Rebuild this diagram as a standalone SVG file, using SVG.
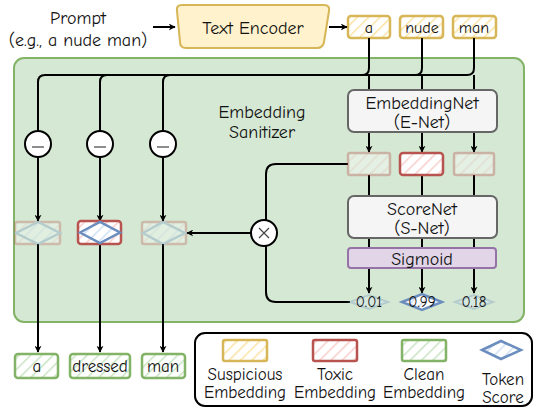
<svg xmlns="http://www.w3.org/2000/svg" width="538" height="412" viewBox="0 0 538 412">
<defs>
<pattern id="hy" width="8" height="8" patternUnits="userSpaceOnUse" patternTransform="rotate(45)"><rect width="8" height="8" fill="#ffffff"/><line x1="0" y1="0" x2="0" y2="8" stroke="#fbe3a6" stroke-width="3"/></pattern>
<pattern id="hr" width="8" height="8" patternUnits="userSpaceOnUse" patternTransform="rotate(45)"><rect width="8" height="8" fill="#ffffff"/><line x1="0" y1="0" x2="0" y2="8" stroke="#f8cecc" stroke-width="3"/></pattern>
<pattern id="hg" width="8" height="8" patternUnits="userSpaceOnUse" patternTransform="rotate(45)"><rect width="8" height="8" fill="#ffffff"/><line x1="0" y1="0" x2="0" y2="8" stroke="#c9e3c3" stroke-width="3"/></pattern>
<pattern id="hb" width="8" height="8" patternUnits="userSpaceOnUse" patternTransform="rotate(45)"><rect width="8" height="8" fill="#ffffff"/><line x1="0" y1="0" x2="0" y2="8" stroke="#cfe0f5" stroke-width="3"/></pattern>
<marker id="ah" viewBox="0 0 10 10" refX="9" refY="5" markerWidth="7" markerHeight="7" orient="auto" markerUnits="userSpaceOnUse"><path d="M0,0 L10,5 L0,10 L3,5 Z" fill="#000"/></marker>
</defs>
<style>
text{font-family:"Comic Sans MS","Comic Neue","DejaVu Sans","Liberation Sans",sans-serif;fill:#111;text-anchor:middle}
.t{font-size:18px}
.s{font-size:16px}
.b{font-size:17px}
.l{font-size:17px}
.n{font-size:15px}
.c{fill:none;stroke:#000;stroke-width:2}
.ca{fill:none;stroke:#000;stroke-width:2;marker-end:url(#ah)}
.y{fill:url(#hy);stroke:#d6b656;stroke-width:2.5}
.r{fill:url(#hr);stroke:#b85450;stroke-width:2.5}
.g{fill:url(#hg);stroke:#82b366;stroke-width:2.5}
.d{fill:url(#hb);stroke:#6c8ebf;stroke-width:2.5}
.box{fill:#f5f5f5;stroke:#666;stroke-width:2}
.circ{fill:#fff;stroke:#000;stroke-width:2}
</style>
<rect id="container" x="14" y="58" width="510" height="264" rx="10" fill="#d5e8d4" stroke="#82b366" stroke-width="2"/>
<g id="prompt"><text class="t" x="78" y="24">Prompt</text><text class="t" x="78" y="46">(e.g., a nude man)</text></g>
<g id="encoder"><path d="M182,5 L324,5 Q330,5 329,11 L324,42 Q323,48 317,48 L186,48 Q180,48 180,42 L177,11 Q176,5 182,5 Z" fill="#fff2cc" stroke="#d6b656" stroke-width="2"/><text class="t" x="253" y="34">Text Encoder</text></g>
<g id="tok-a"><rect class="y" x="348" y="16" width="42" height="22" rx="3"/><text class="s" x="369" y="33">a</text></g>
<g id="tok-nude"><rect class="y" x="400" y="16" width="43" height="22" rx="3"/><text class="s" x="422" y="33">nude</text></g>
<g id="tok-man"><rect class="y" x="453" y="16" width="43" height="22" rx="3"/><text class="s" x="474" y="33">man</text></g>
<g id="label"><text class="t" x="262" y="118">Embedding</text><text class="t" x="262" y="138">Sanitizer</text></g>
<g id="connectors">
<line class="ca" x1="153" y1="27" x2="175" y2="27"/>
<line class="ca" x1="329" y1="27" x2="347" y2="27"/>
<path class="c" d="M369,38 V68 Q369,75 362,75 H45 Q38,75 38,82 V131"/>
<path class="c" d="M422,38 V68 Q422,75 415,75 H107 Q100,75 100,82 V131"/>
<path class="c" d="M474,38 V68 Q474,75 467,75 H170 Q163,75 163,82 V131"/>
<line class="c" x1="369" y1="75" x2="369" y2="90"/>
<line class="c" x1="422" y1="75" x2="422" y2="90"/>
<line class="c" x1="474" y1="75" x2="474" y2="90"/>
<line class="ca" x1="38" y1="157" x2="38" y2="221"/>
<line class="ca" x1="100" y1="157" x2="100" y2="221"/>
<line class="ca" x1="163" y1="157" x2="163" y2="221"/>
<line class="ca" x1="38" y1="244" x2="38" y2="352"/>
<line class="ca" x1="100" y1="244" x2="100" y2="352"/>
<line class="ca" x1="163" y1="244" x2="163" y2="352"/>
<line class="ca" x1="369" y1="132" x2="369" y2="152"/>
<line class="ca" x1="422" y1="132" x2="422" y2="152"/>
<line class="ca" x1="474" y1="132" x2="474" y2="152"/>
<line class="c" x1="369" y1="175" x2="369" y2="196"/>
<line class="c" x1="422" y1="175" x2="422" y2="196"/>
<line class="c" x1="474" y1="175" x2="474" y2="196"/>
<line class="c" x1="369" y1="238" x2="369" y2="248"/>
<line class="c" x1="422" y1="238" x2="422" y2="248"/>
<line class="c" x1="474" y1="238" x2="474" y2="248"/>
<line class="ca" x1="369" y1="268" x2="369" y2="293"/>
<line class="ca" x1="422" y1="268" x2="422" y2="293"/>
<line class="ca" x1="474" y1="268" x2="474" y2="293"/>
<path class="c" d="M348,164 H276 Q266,164 266,174 V220"/>
<path class="c" d="M266,246 V292 Q266,302 276,302 H350"/>
<line class="ca" x1="252" y1="233" x2="187" y2="233"/>
</g>
<g id="minus1"><circle class="circ" cx="38" cy="144" r="13"/><line x1="32" y1="147" x2="44" y2="147" stroke="#444" stroke-width="1.2"/></g>
<g id="minus2"><circle class="circ" cx="100" cy="144" r="13"/><line x1="94" y1="147" x2="106" y2="147" stroke="#444" stroke-width="1.2"/></g>
<g id="minus3"><circle class="circ" cx="163" cy="144" r="13"/><line x1="157" y1="147" x2="169" y2="147" stroke="#444" stroke-width="1.2"/></g>
<g id="times"><circle class="circ" cx="264" cy="233" r="13"/><path d="M259,228 L269,238 M269,228 L259,238" stroke="#444" stroke-width="1.2"/></g>
<g id="mid-a" opacity="0.3"><rect class="r" x="15" y="222" width="45" height="22" rx="2"/><path class="d" d="M16,233 L38,222 L60,233 L38,244 Z" fill="none"/></g>
<g id="mid-nude"><rect class="r" x="78" y="221" width="43" height="23" rx="3"/><path class="d" d="M80,232.5 L100,222 L120,232.5 L100,243 Z" stroke-width="3"/></g>
<g id="mid-man" opacity="0.3"><rect class="r" x="142" y="222" width="44" height="22" rx="2"/><path class="d" d="M143,233 L163,222 L185,233 L163,244 Z" fill="none"/></g>
<g id="enet"><rect class="box" x="348" y="90" width="149" height="42" rx="6"/><text class="t" x="422" y="109">EmbeddingNet</text><text class="t" x="422" y="128">(E-Net)</text></g>
<g id="emb-a" opacity="0.35"><rect class="r" x="348" y="153" width="42" height="22" rx="2"/></g>
<g id="emb-nude"><rect class="r" x="400" y="153" width="43" height="22" rx="3"/></g>
<g id="emb-man" opacity="0.35"><rect class="r" x="454" y="153" width="40" height="22" rx="2"/></g>
<g id="snet"><rect class="box" x="348" y="196" width="149" height="42" rx="6"/><text class="t" x="422" y="215">ScoreNet</text><text class="t" x="422" y="234">(S-Net)</text></g>
<g id="sigmoid"><rect x="348" y="248" width="148" height="20" rx="3" fill="#e1d5e7" stroke="#9673a6" stroke-width="2"/><text class="t" x="422" y="265">Sigmoid</text></g>
<g id="score-a"><path d="M350,302 L369,295 L388,302 L369,309 Z" fill="#dae8fc" stroke="#6c8ebf" stroke-width="2" opacity="0.3"/><text class="n" x="369" y="307">0.01</text></g>
<g id="score-nude"><path d="M402,302 L422,294 L442,302 L422,310 Z" fill="url(#hb)" stroke="#6c8ebf" stroke-width="2.5"/><text class="n" x="422" y="307">0.99</text></g>
<g id="score-man"><path d="M455,302 L474,295 L493,302 L474,309 Z" fill="#dae8fc" stroke="#6c8ebf" stroke-width="2" opacity="0.3"/><text class="n" x="474" y="307">0.18</text></g>
<g id="out-a"><rect class="g" x="15" y="354" width="43" height="24" rx="3"/><text class="b" x="37" y="372">a</text></g>
<g id="out-dressed"><rect class="g" x="70" y="354" width="60" height="24" rx="3"/><text class="b" x="100" y="372">dressed</text></g>
<g id="out-man"><rect class="g" x="142" y="354" width="43" height="24" rx="3"/><text class="b" x="163" y="372">man</text></g>
<g id="legend">
<rect x="195" y="333" width="337" height="73" rx="10" fill="#fff" stroke="#000" stroke-width="2"/>
<rect class="y" x="223" y="340" width="44" height="21" rx="2"/>
<text class="l" x="245" y="380">Suspicious</text><text class="l" x="245" y="398">Embedding</text>
<rect class="r" x="313" y="340" width="44" height="21" rx="2"/>
<text class="l" x="335" y="380">Toxic</text><text class="l" x="335" y="398">Embedding</text>
<rect class="g" x="402" y="340" width="44" height="21" rx="2"/>
<text class="l" x="424" y="380">Clean</text><text class="l" x="424" y="398">Embedding</text>
<path class="d" d="M482,350 L501,341 L521,350 L501,359 Z"/>
<text class="l" x="503" y="385">Token</text><text class="l" x="503" y="403">Score</text>
</g>
</svg>
